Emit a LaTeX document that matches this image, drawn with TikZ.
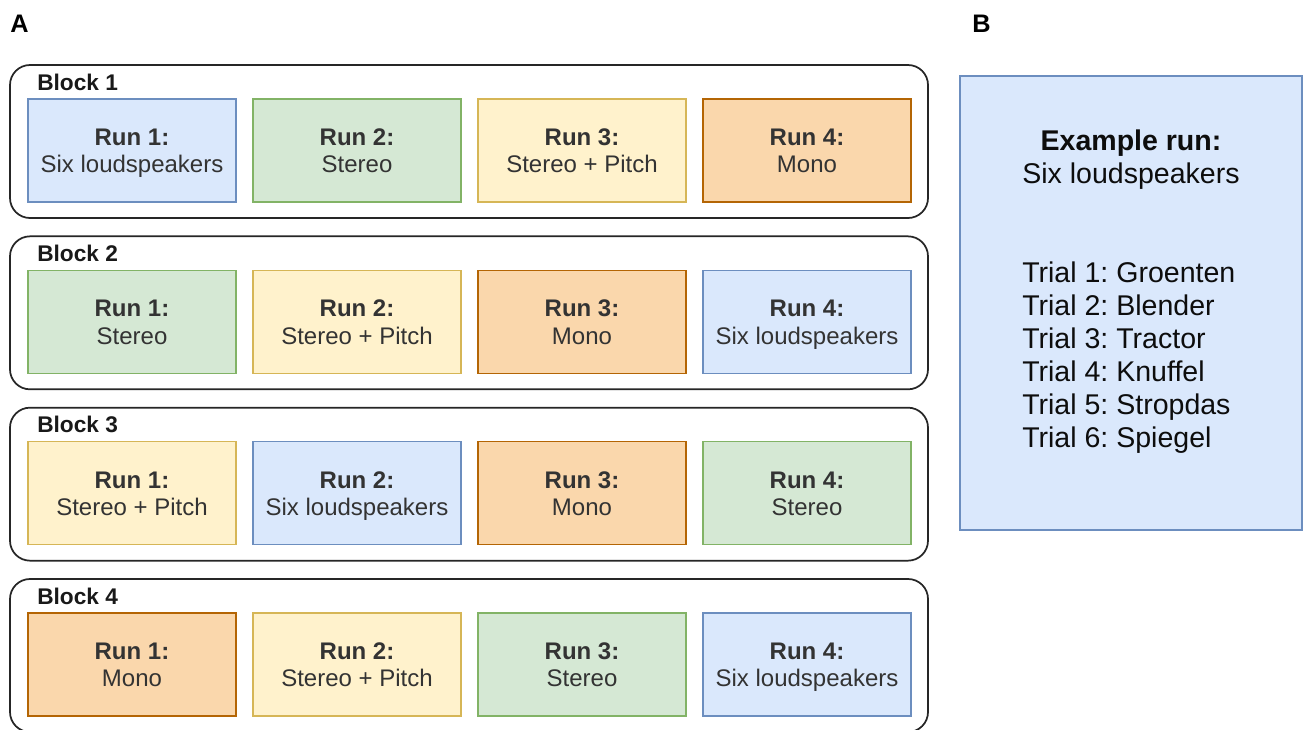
\documentclass[tikz,border=0pt]{standalone}
\usepackage{fontspec}
\setmainfont{Liberation Sans}
\frenchspacing
\definecolor{bluef}{HTML}{DAE8FC}\definecolor{blued}{HTML}{6C8EBF}
\definecolor{greenf}{HTML}{D5E8D4}\definecolor{greend}{HTML}{82B366}
\definecolor{yellowf}{HTML}{FFF2CC}\definecolor{yellowd}{HTML}{D6B656}
\definecolor{orangef}{HTML}{FAD7AC}\definecolor{oranged}{HTML}{B46504}
\definecolor{txt}{HTML}{333333}
\newcommand{\topstrut}{\rule{0pt}{19.1pt}}
\newcommand{\botstrut}{\rule[-6pt]{0pt}{6pt}}
\begin{document}
\begin{tikzpicture}[x=0.75pt,y=-0.75pt,
  blockbox/.style={draw=black!85, line width=1.3pt, rounded corners=15pt, minimum width=688.5pt, minimum height=114.75pt, inner sep=0pt},
  blocklabel/.style={anchor=base west, inner sep=0pt, font=\fontsize{17}{20}\selectfont\bfseries, text=black!90},
  runbox/.style={line width=0.8pt, minimum width=156pt, minimum height=77.25pt, inner sep=0pt, align=center, font=\fontsize{18}{20.6}\selectfont, text=txt},
  blue/.style={runbox, fill=bluef, draw=blued},
  green/.style={runbox, fill=greenf, draw=greend},
  yellow/.style={runbox, fill=yellowf, draw=yellowd},
  orange/.style={runbox, fill=orangef, draw=oranged},
  panellabel/.style={anchor=base west, inner sep=0pt, font=\fontsize{19}{22}\selectfont\bfseries},
  bigtext/.style={inner sep=0pt, font=\fontsize{21.4}{24.75}\selectfont, text=black!95}
]
\useasboundingbox (0,0) rectangle (1306,729);
\clip (0,0) rectangle (1306,729);
\fill[white] (0,0) rectangle (1306,729);

\node[panellabel] (labA) at (10,32) {A};
\node[panellabel] (labB) at (972,32) {B};

\foreach \b/\cola/\txa/\colb/\txb/\colc/\txc/\cold/\txd [count=\i from 0] in {
  1/blue/Six loudspeakers/green/Stereo/yellow/Stereo + Pitch/orange/Mono,
  2/green/Stereo/yellow/Stereo + Pitch/orange/Mono/blue/Six loudspeakers,
  3/yellow/Stereo + Pitch/blue/Six loudspeakers/orange/Mono/green/Stereo,
  4/orange/Mono/yellow/Stereo + Pitch/green/Stereo/blue/Six loudspeakers} {
  \pgfmathsetmacro{\yt}{65+171.33*\i}
  \node[blockbox] (blk\b) at (469,\yt+76.5) {};
  \node[blocklabel] (blklab\b) at (37,\yt+25) {Block \b};
  \node[\cola] (run\b a) at (132,\yt+85.5) {\topstrut\textbf{Run 1:}\\\txa\botstrut};
  \node[\colb] (run\b b) at (357,\yt+85.5) {\topstrut\textbf{Run 2:}\\\txb\botstrut};
  \node[\colc] (run\b c) at (582,\yt+85.5) {\topstrut\textbf{Run 3:}\\\txc\botstrut};
  \node[\cold] (run\b d) at (807,\yt+85.5) {\topstrut\textbf{Run 4:}\\\txd\botstrut};
}

\node[fill=bluef, draw=blued, line width=0.8pt, minimum width=256.5pt, minimum height=340.5pt, inner sep=0pt] (panel) at (1131,303) {};
\node[bigtext, align=center, anchor=base] (title) at (1131,183) {\textbf{Example run:}\\Six loudspeakers};
\node[bigtext, align=left, anchor=base west] (trials) at (1022,447) {Trial 1: Groenten\\Trial 2: Blender\\Trial 3: Tractor\\Trial 4: Knuffel\\Trial 5: Stropdas\\Trial 6: Spiegel};
\end{tikzpicture}
\end{document}
